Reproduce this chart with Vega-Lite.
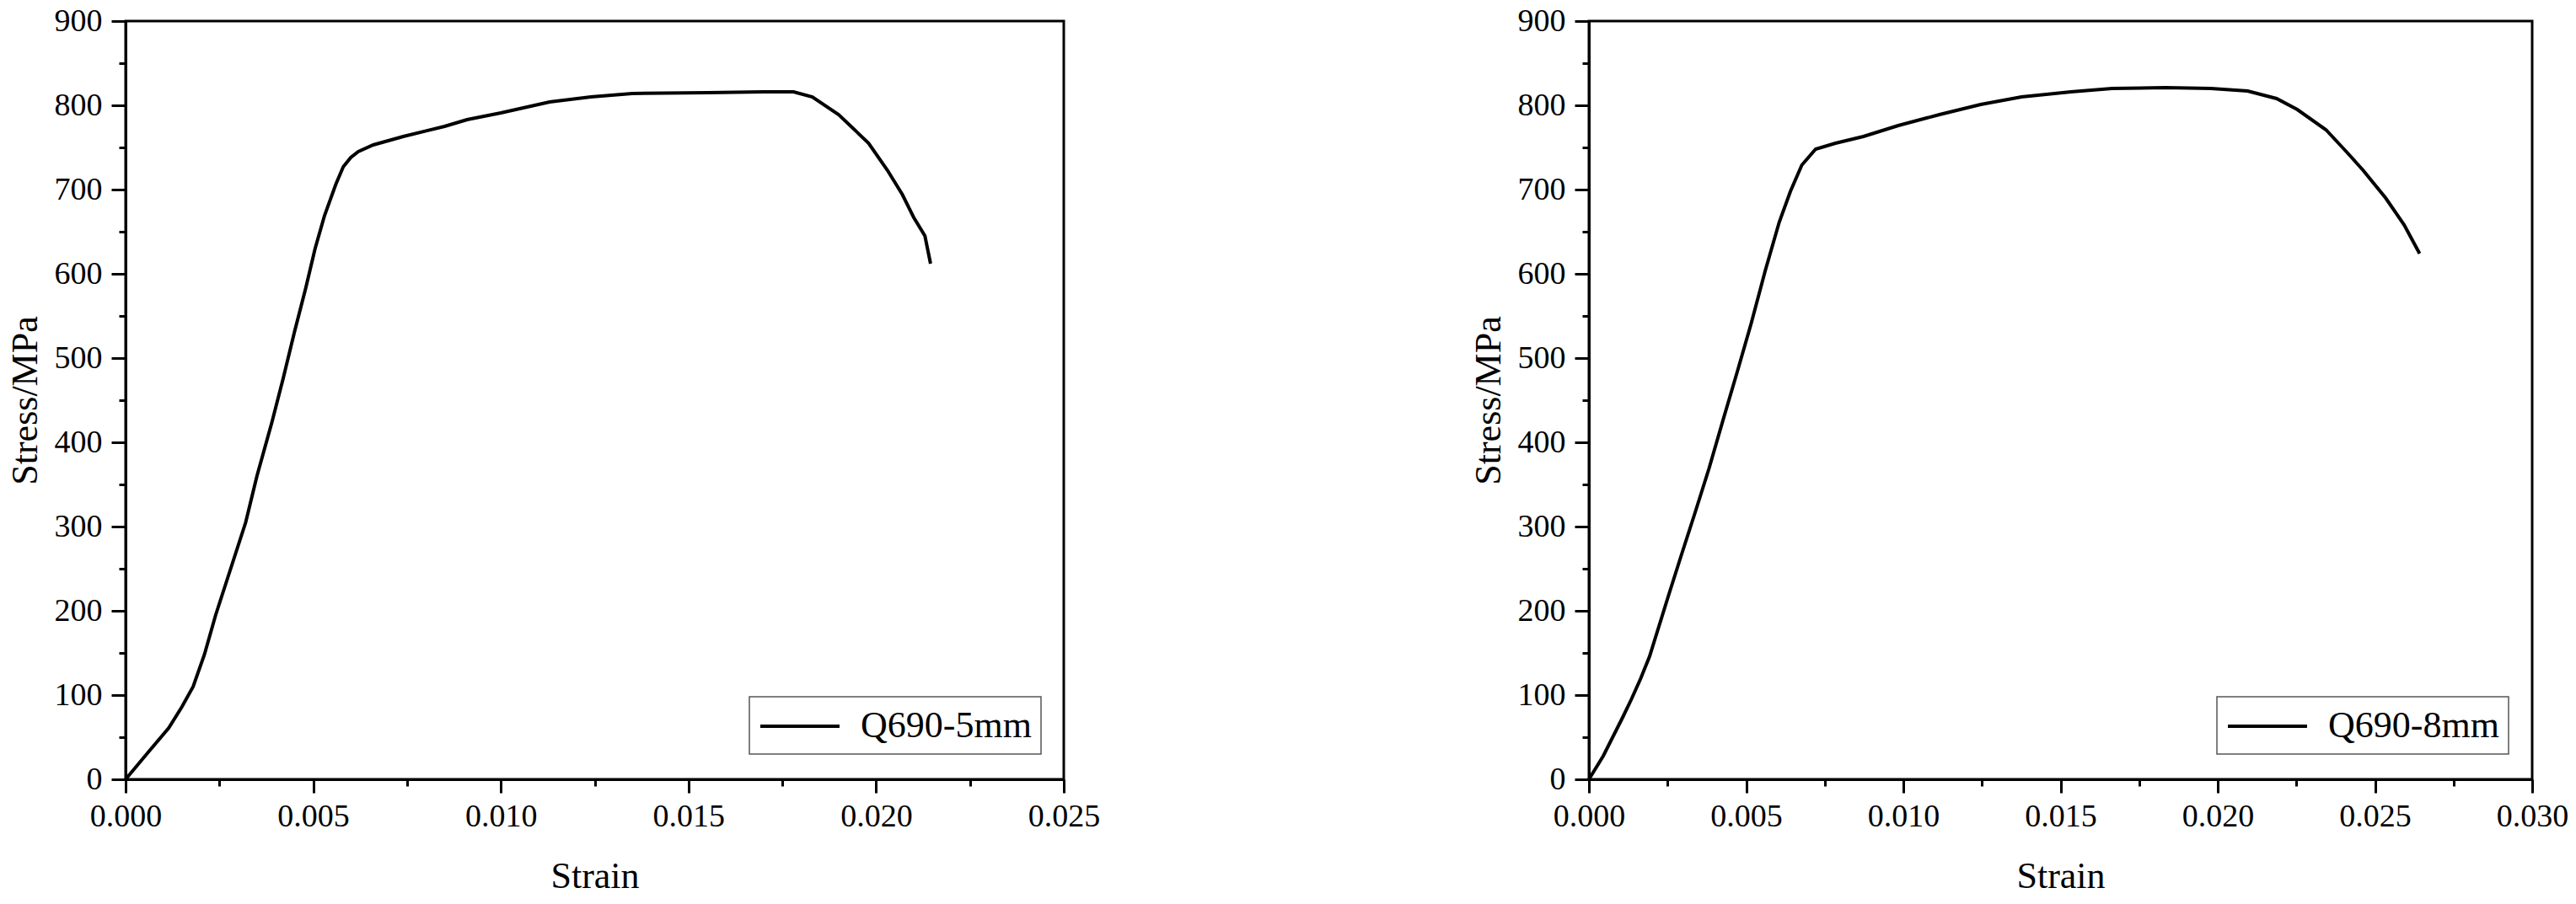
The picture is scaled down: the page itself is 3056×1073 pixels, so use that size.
{
  "$schema": "https://vega.github.io/schema/vega-lite/v6.json",
  "background": "white",
  "padding": {"left": 6, "top": 4, "right": 5, "bottom": 5},
  "spacing": 435,
  "datasets": {
    "d5": [
      {"strain": 0, "stress": 0, "series": "Q690-5mm"},
      {"strain": 0.0006, "stress": 32, "series": "Q690-5mm"},
      {"strain": 0.00115, "stress": 61, "series": "Q690-5mm"},
      {"strain": 0.0015, "stress": 86, "series": "Q690-5mm"},
      {"strain": 0.0018, "stress": 110, "series": "Q690-5mm"},
      {"strain": 0.0021, "stress": 148, "series": "Q690-5mm"},
      {"strain": 0.0024, "stress": 195, "series": "Q690-5mm"},
      {"strain": 0.0028, "stress": 250, "series": "Q690-5mm"},
      {"strain": 0.0032, "stress": 305, "series": "Q690-5mm"},
      {"strain": 0.0035, "stress": 360, "series": "Q690-5mm"},
      {"strain": 0.0039, "stress": 424, "series": "Q690-5mm"},
      {"strain": 0.0042, "stress": 476, "series": "Q690-5mm"},
      {"strain": 0.0045, "stress": 531, "series": "Q690-5mm"},
      {"strain": 0.0048, "stress": 583, "series": "Q690-5mm"},
      {"strain": 0.00505, "stress": 630, "series": "Q690-5mm"},
      {"strain": 0.0053, "stress": 669, "series": "Q690-5mm"},
      {"strain": 0.0056, "stress": 706, "series": "Q690-5mm"},
      {"strain": 0.0058, "stress": 727, "series": "Q690-5mm"},
      {"strain": 0.006, "stress": 738, "series": "Q690-5mm"},
      {"strain": 0.0062, "stress": 745, "series": "Q690-5mm"},
      {"strain": 0.0066, "stress": 753, "series": "Q690-5mm"},
      {"strain": 0.0074, "stress": 763, "series": "Q690-5mm"},
      {"strain": 0.0085, "stress": 775, "series": "Q690-5mm"},
      {"strain": 0.0091, "stress": 783, "series": "Q690-5mm"},
      {"strain": 0.01, "stress": 791, "series": "Q690-5mm"},
      {"strain": 0.0105, "stress": 796, "series": "Q690-5mm"},
      {"strain": 0.0113, "stress": 804, "series": "Q690-5mm"},
      {"strain": 0.0124, "stress": 810, "series": "Q690-5mm"},
      {"strain": 0.0135, "stress": 814, "series": "Q690-5mm"},
      {"strain": 0.0155, "stress": 815, "series": "Q690-5mm"},
      {"strain": 0.017, "stress": 816, "series": "Q690-5mm"},
      {"strain": 0.0178, "stress": 816, "series": "Q690-5mm"},
      {"strain": 0.0183, "stress": 810, "series": "Q690-5mm"},
      {"strain": 0.019, "stress": 789, "series": "Q690-5mm"},
      {"strain": 0.0198, "stress": 755, "series": "Q690-5mm"},
      {"strain": 0.0203, "stress": 723, "series": "Q690-5mm"},
      {"strain": 0.0207, "stress": 694, "series": "Q690-5mm"},
      {"strain": 0.021, "stress": 667, "series": "Q690-5mm"},
      {"strain": 0.0213, "stress": 645, "series": "Q690-5mm"},
      {"strain": 0.02145, "stress": 612, "series": "Q690-5mm"}
    ],
    "d8": [
      {"strain": 0, "stress": 0, "series": "Q690-8mm"},
      {"strain": 0.00046, "stress": 28, "series": "Q690-8mm"},
      {"strain": 0.00108, "stress": 74, "series": "Q690-8mm"},
      {"strain": 0.00135, "stress": 95, "series": "Q690-8mm"},
      {"strain": 0.00165, "stress": 120, "series": "Q690-8mm"},
      {"strain": 0.00193, "stress": 146, "series": "Q690-8mm"},
      {"strain": 0.00253, "stress": 218, "series": "Q690-8mm"},
      {"strain": 0.00293, "stress": 265, "series": "Q690-8mm"},
      {"strain": 0.00338, "stress": 317, "series": "Q690-8mm"},
      {"strain": 0.00382, "stress": 369, "series": "Q690-8mm"},
      {"strain": 0.00427, "stress": 427, "series": "Q690-8mm"},
      {"strain": 0.00472, "stress": 484, "series": "Q690-8mm"},
      {"strain": 0.00516, "stress": 541, "series": "Q690-8mm"},
      {"strain": 0.00561, "stress": 604, "series": "Q690-8mm"},
      {"strain": 0.00605, "stress": 661, "series": "Q690-8mm"},
      {"strain": 0.00641, "stress": 698, "series": "Q690-8mm"},
      {"strain": 0.00677, "stress": 729, "series": "Q690-8mm"},
      {"strain": 0.00721, "stress": 748, "series": "Q690-8mm"},
      {"strain": 0.00784, "stress": 755, "series": "Q690-8mm"},
      {"strain": 0.00873, "stress": 763, "series": "Q690-8mm"},
      {"strain": 0.00984, "stress": 776, "series": "Q690-8mm"},
      {"strain": 0.01115, "stress": 789, "series": "Q690-8mm"},
      {"strain": 0.01246, "stress": 801, "series": "Q690-8mm"},
      {"strain": 0.01376, "stress": 810, "series": "Q690-8mm"},
      {"strain": 0.01533, "stress": 816, "series": "Q690-8mm"},
      {"strain": 0.01664, "stress": 820, "series": "Q690-8mm"},
      {"strain": 0.01834, "stress": 821, "series": "Q690-8mm"},
      {"strain": 0.01978, "stress": 820, "series": "Q690-8mm"},
      {"strain": 0.02095, "stress": 817, "series": "Q690-8mm"},
      {"strain": 0.02187, "stress": 808, "series": "Q690-8mm"},
      {"strain": 0.02253, "stress": 795, "series": "Q690-8mm"},
      {"strain": 0.02344, "stress": 771, "series": "Q690-8mm"},
      {"strain": 0.02409, "stress": 745, "series": "Q690-8mm"},
      {"strain": 0.02462, "stress": 723, "series": "Q690-8mm"},
      {"strain": 0.02534, "stress": 690, "series": "Q690-8mm"},
      {"strain": 0.02593, "stress": 658, "series": "Q690-8mm"},
      {"strain": 0.02642, "stress": 624, "series": "Q690-8mm"}
    ]
  },
  "config": {
    "font": "Liberation Serif",
    "view": {"stroke": "black", "strokeWidth": 3},
    "axis": {
      "grid": false,
      "domainColor": "black",
      "domainWidth": 3,
      "tickColor": "black",
      "tickWidth": 3,
      "labelFont": "Liberation Serif",
      "labelFontSize": 38,
      "labelColor": "black",
      "labelFlush": false,
      "labelOverlap": false,
      "titleFont": "Liberation Serif",
      "titleFontSize": 44,
      "titleFontWeight": "normal",
      "titleColor": "black"
    },
    "legend": {
      "orient": "none",
      "legendY": 802,
      "title": null,
      "symbolType": "M-1,0H3.27",
      "symbolSize": 1936,
      "symbolStrokeWidth": 3.8,
      "symbolStrokeColor": "black",
      "symbolFillColor": "transparent",
      "labelFont": "Liberation Serif",
      "labelFontSize": 44,
      "labelColor": "black",
      "labelLimit": 400,
      "labelOffset": 73,
      "padding": 11,
      "strokeColor": "#555555",
      "strokeWidth": 1.5,
      "fillColor": "white"
    }
  },
  "resolve": {"scale": {"color": "independent"}, "legend": {"color": "independent"}},
  "hconcat": [
    {
      "width": 1113,
      "height": 900,
      "data": {"name": "d5"},
      "layer": [
        {
          "mark": {"type": "line", "strokeWidth": 4, "clip": false},
          "encoding": {
            "x": {"field": "strain", "type": "quantitative", "scale": {"domain": [0, 0.025], "nice": false, "zero": false},
              "axis": {"orient": "bottom", "values": [0, 0.005, 0.01, 0.015, 0.02, 0.025], "format": ".3f", "tickSize": 16, "labelPadding": 9, "title": "Strain", "titlePadding": 30}},
            "y": {"field": "stress", "type": "quantitative", "scale": {"domain": [0, 900], "nice": false},
              "axis": {"orient": "left", "values": [0, 100, 200, 300, 400, 500, 600, 700, 800, 900], "tickSize": 17, "labelPadding": 11, "title": "Stress/MPa", "titlePadding": 12}},
            "color": {"field": "series", "type": "nominal", "scale": {"range": ["black"]},
              "legend": {"legendX": 740}}
          }
        },
        {
          "mark": {"type": "line", "opacity": 0},
          "encoding": {
            "x": {"field": "strain", "type": "quantitative",
              "axis": {"orient": "bottom", "values": [0.0025, 0.0075, 0.0125, 0.0175, 0.0225], "labels": false, "domain": false, "tickSize": 8, "title": null}},
            "y": {"field": "stress", "type": "quantitative",
              "axis": {"orient": "left", "values": [50, 150, 250, 350, 450, 550, 650, 750, 850], "labels": false, "domain": false, "tickSize": 8, "title": null}}
          }
        }
      ],
      "resolve": {"axis": {"x": "independent", "y": "independent"}}
    },
    {
      "width": 1119,
      "height": 900,
      "data": {"name": "d8"},
      "layer": [
        {
          "mark": {"type": "line", "strokeWidth": 4, "clip": false},
          "encoding": {
            "x": {"field": "strain", "type": "quantitative", "scale": {"domain": [0, 0.03], "nice": false, "zero": false},
              "axis": {"orient": "bottom", "values": [0, 0.005, 0.01, 0.015, 0.02, 0.025, 0.03], "format": ".3f", "tickSize": 16, "labelPadding": 9, "title": "Strain", "titlePadding": 30}},
            "y": {"field": "stress", "type": "quantitative", "scale": {"domain": [0, 900], "nice": false},
              "axis": {"orient": "left", "values": [0, 100, 200, 300, 400, 500, 600, 700, 800, 900], "tickSize": 17, "labelPadding": 11, "title": "Stress/MPa", "titlePadding": 12}},
            "color": {"field": "series", "type": "nominal", "scale": {"range": ["black"]},
              "legend": {"legendX": 745}}
          }
        },
        {
          "mark": {"type": "line", "opacity": 0},
          "encoding": {
            "x": {"field": "strain", "type": "quantitative",
              "axis": {"orient": "bottom", "values": [0.0025, 0.0075, 0.0125, 0.0175, 0.0225, 0.0275], "labels": false, "domain": false, "tickSize": 8, "title": null}},
            "y": {"field": "stress", "type": "quantitative",
              "axis": {"orient": "left", "values": [50, 150, 250, 350, 450, 550, 650, 750, 850], "labels": false, "domain": false, "tickSize": 8, "title": null}}
          }
        }
      ],
      "resolve": {"axis": {"x": "independent", "y": "independent"}}
    }
  ]
}
